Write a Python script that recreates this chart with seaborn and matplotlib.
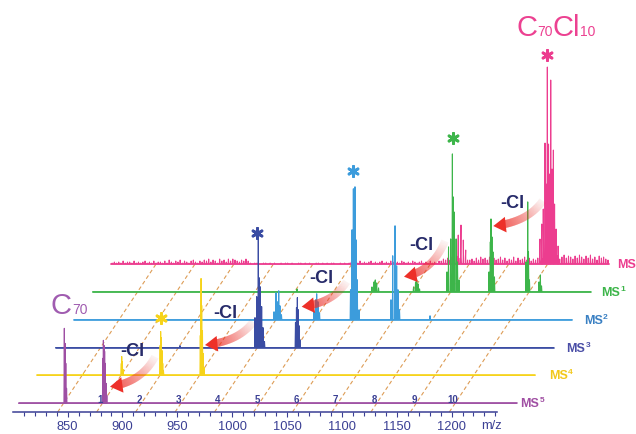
import numpy as np
import pandas as pd
import matplotlib
matplotlib.use("Agg")
import matplotlib.pyplot as plt
import seaborn as sns
from matplotlib import font_manager as fm
from matplotlib.collections import PolyCollection
from matplotlib.patches import Polygon
from matplotlib.ticker import FixedLocator

sns.set_theme(style="white")
_avail = {f.name for f in fm.fontManager.ttflist}
FONT = "Liberation Sans" if "Liberation Sans" in _avail else "DejaVu Sans"
NARROW = "Liberation Sans Narrow" if "Liberation Sans Narrow" in _avail else FONT
plt.rcParams["font.family"] = [FONT, "DejaVu Sans"]

# ---------------------------------------------------------------- data
LAYER_NAMES = ["MS", "MS", "MS", "MS", "MS", "MS"]
LAYER_SUPERSCRIPTS = ["", "1", "2", "3", "4", "5"]
MZ_START, MZ_END = 800, 1254          # recorded m/z window of every spectrum

# MS  (C70Cl10 parent, pink)
MS_MZ = [1116.5, 1119.0, 1121.1, 1123.3, 1191.0, 1192.6, 1194.0, 1195.6, 1196.7,
         1197.7, 1198.8, 1199.7, 1200.8, 1202.0, 1203.2, 1204.3, 1205.7, 1207.5]
MS_INT = [29, 39, 24, 14, 25, 40, 55, 121, 80, 197, 120, 90, 184, 95, 114, 60, 35, 18]
# background noise of the MS trace, one reading every 2 m/z from 801
MS_NOISE = [int(c) for c in (
    "1212131221312123121312"
    "213142132413213421"
    "32435243153425354324353"
    "101100110101001011010011010100110101011001010"
    "121213121231212312132121321213212312131213"
    "3546475867564"
    "45364756473645746354736457463546"
    "5555555"
    "6857968758697586957486754")]
MS_NOISE_START, MS_NOISE_STEP = 801, 2

# MS1 (green)
MS1_MZ = [986.4, 1054.7, 1056.6, 1057.7, 1059.0, 1060.7, 1092.6, 1094.4, 1095.5, 1096.7,
          1098.1, 1123.1, 1124.5, 1126.5, 1128.0, 1128.8, 1129.5, 1131.4, 1132.7, 1134.1,
          1161.4, 1162.6, 1163.2, 1164.1, 1165.0, 1166.4, 1195.1, 1196.7, 1197.4, 1198.3,
          1207.0, 1208.2, 1209.3]
MS1_INT = [3, 5, 10, 12, 9, 4, 5, 10, 12, 8, 3, 20, 45, 53, 138, 95, 80, 53, 30, 12,
           20, 50, 73, 55, 40, 15, 30, 90, 40, 12, 10, 17, 6]

# MS2 (light blue)
MS2_MZ = [982.3, 984.1, 985.3, 986.6, 987.7, 989.1, 1018.7, 1020.3, 1021.2, 1022.4, 1023.8,
          1052.0, 1053.4, 1054.6, 1055.4, 1056.1, 1057.0, 1058.2, 1059.8, 1088.9, 1090.5,
          1092.6, 1094.1, 1095.3, 1096.7, 1124.5]
MS2_INT = [8, 27, 18, 29, 14, 5, 8, 20, 26, 18, 7, 30, 90, 131, 100, 133, 80, 40, 10,
           20, 64, 94, 54, 30, 10, 4]

# MS3 (indigo)
MS3_MZ = [913.4, 981.8, 983.4, 984.8, 985.5, 986.4, 987.9, 989.1, 990.5,
          1018.7, 1019.6, 1020.4, 1021.2, 1021.9, 1022.8]
MS3_INT = [2, 30, 51, 108, 70, 61, 41, 20, 6, 25, 40, 50, 38, 22, 8]

# MS4 (yellow)
MS4_MZ = [842.2, 876.8, 877.2, 877.8, 878.4, 912.2, 912.7, 913.3, 913.9, 914.6, 915.3,
          948.8, 949.5, 950.1, 950.8, 951.5, 952.3]
MS4_INT = [2, 12, 19, 14, 6, 30, 44, 38, 25, 12, 4, 40, 97, 70, 45, 22, 8]

# MS5 (purple)
MS5_MZ = [841.7, 842.4, 843.1, 843.8, 876.8, 877.3, 877.9, 878.5, 879.1, 879.8, 880.5]
MS5_INT = [75, 60, 40, 15, 45, 63, 58, 52, 40, 20, 8]

# selected precursor of each stage (asterisk)
ASTERISK_MZ = [1197.7, 1128.2, 1054.0, 983.4, 912.9]

# m/z of C70Cl_n, n = 0..10 (guide lines)
CLN_MZ = [841, 876.5, 912, 948, 984, 1019.5, 1055, 1091, 1126.5, 1162.5, 1198]
CLN_LABELS = ["", "1", "2", "3", "4", "5", "6", "7", "8", "9", "10"]

XTICKS = [850, 900, 950, 1000, 1050, 1100, 1150, 1200]
XMINOR = [m for m in range(810, 1241, 10) if m % 50]

# ---------------------------------------------------------------- style
LAYER_COLORS = ["#ec3d8f", "#3db54a", "#3c9cdc", "#3a4ca3", "#f6d31a", "#9e4fa3"]
LABEL_COLORS = ["#ec3d8f", "#3db54a", "#3a80c3", "#4a4ea6", "#f2c81a", "#a04fa3"]
LABEL_GAP = [8, 11, 12, 13, 14, 4]
AST_GAP = [12, 16, 16, 7, 13]
NAVY = "#3a3f94"
RED = np.array([0.93, 0.19, 0.16])

PX_PER_MZ = 1.097
MZ0 = 850 - 67.6 / PX_PER_MZ
AXIS_Y = 22.0
BASE5_Y = 30.7
LAYER_DY = 27.85
LAYER_DX_PX = 18.5
BASE5_DX_PX = 5.8
W = 0.35

fig = plt.figure(figsize=(6.36, 4.34), dpi=100)
ax = fig.add_axes([0, 0, 1, 1])
ax.set_facecolor("white")
R = fig.canvas.get_renderer()


def geom(k):
    d = 5 - k
    return BASE5_Y + d * LAYER_DY, (BASE5_DX_PX + d * LAYER_DX_PX) / PX_PER_MZ


def chain_text(axis, xy, pieces, color, z=20):
    dx = 0.0
    for txt, size, dy, weight, fam in pieces:
        t = axis.annotate(txt, xy=xy, xycoords="data", xytext=(dx, dy),
                          textcoords="offset pixels", fontsize=size, fontweight=weight,
                          family=[fam, "DejaVu Sans"], color=color, ha="left",
                          va="baseline", annotation_clip=False, zorder=z)
        dx += t.get_window_extent(R).width


# guide lines C70Cl_n
top_base, top_dx = geom(0)
for m, lab in zip(CLN_MZ, CLN_LABELS):
    ax.plot([m, m + top_dx], [AXIS_Y, top_base], color="#dd9c55", lw=0.8,
            dashes=(3.5, 2.5), zorder=1)
    if lab:
        ax.text(m + 3.5 / PX_PER_MZ, 34, lab, ha="center", va="center", fontsize=7,
                fontweight="bold", color=NAVY, zorder=15)

SPECTRA = [(MS_MZ, MS_INT), (MS1_MZ, MS1_INT), (MS2_MZ, MS2_INT),
           (MS3_MZ, MS3_INT), (MS4_MZ, MS4_INT), (MS5_MZ, MS5_INT)]

for k, (mz, it) in enumerate(SPECTRA):
    base, dx = geom(k)
    col = LAYER_COLORS[k]
    sticks = list(zip(mz, it))
    if k == 0:
        sticks += [(MS_NOISE_START + MS_NOISE_STEP * i, v) for i, v in enumerate(MS_NOISE)]
    pts = [(MZ_START, 0.0), (MZ_END, 0.0)]
    for m, h in sticks:
        pts += [(m - W, 0.0), (m, float(h)), (m + W, 0.0)]
    pts.sort(key=lambda p: p[0])
    df = pd.DataFrame(pts, columns=["mz", "inten"])
    df["x"] = df["mz"] + dx
    df["y"] = df["inten"] + base
    sns.lineplot(data=df, x="x", y="y", sort=False, estimator=None, color=col,
                 linewidth=0.75, ax=ax, zorder=3 + k)
    ax.plot([MZ_START + dx, MZ_END + dx], [base, base], color=col, lw=1.2, zorder=3 + k)
    # stage label
    chain_text(ax, (MZ_END + dx + LABEL_GAP[k] / PX_PER_MZ, base - 4.0),
               [(LAYER_NAMES[k], 9, 0, "bold", FONT),
                (LAYER_SUPERSCRIPTS[k], 6, 5, "bold", FONT)], LABEL_COLORS[k])
    # asterisk on precursor
    if k < len(ASTERISK_MZ):
        am = ASTERISK_MZ[k]
        near = [h for m, h in zip(mz, it) if abs(m - am) < 4]
        ax.scatter([am + dx], [base + max(near) + AST_GAP[k]], marker=(6, 2, 0), s=55,
                   linewidths=2.0, color=col, zorder=12)

# axis
for s in ["top", "right", "left"]:
    ax.spines[s].set_visible(False)
ax.spines["bottom"].set_position(("data", AXIS_Y))
ax.spines["bottom"].set_bounds(800.2, 1241.4)
ax.spines["bottom"].set_color(NAVY)
ax.spines["bottom"].set_linewidth(1.1)
ax.xaxis.set_major_locator(FixedLocator(XTICKS))
ax.xaxis.set_minor_locator(FixedLocator(XMINOR))
ax.tick_params(axis="x", which="major", direction="out", length=3.8, width=0.8,
               color=NAVY, labelcolor=NAVY, labelsize=9.3, pad=2.5)
ax.tick_params(axis="x", which="minor", direction="out", length=2.6, width=0.8, color=NAVY)
ax.xaxis.set_ticks_position("bottom")
ax.set_yticks([])
ax.set_xlabel("")
ax.set_ylabel("")
ax.set_xlim(MZ0, MZ0 + 636 / PX_PER_MZ)
ax.set_ylim(0, 434)
ax.text(1236, 8, "m/z", ha="center", va="center", fontsize=9.3, color=NAVY)

# overlay in pixel coordinates for annotations
ov = fig.add_axes([0, 0, 1, 1])
ov.set_xlim(0, 636)
ov.set_ylim(434, 0)
ov.axis("off")
ov.patch.set_alpha(0)

ARROWS = [((542.7, 200.7), (493.3, 226.0)), ((445.0, 241.0), (404.0, 276.7)),
          ((346.7, 281.7), (301.7, 306.7)), ((253.3, 321.7), (205.0, 345.0)),
          ((155.0, 356.7), (110.0, 386.7))]
CL_TEXT = [(512, 204), (421, 246), (321.7, 278.3), (225.8, 313.3), (132.5, 351.7)]


def grad_arrow(axis, tail, tip):
    P0 = np.array(tail, float)
    T = np.array(tip, float)
    d = T - P0
    C = P0 + np.array([0.3 * d[0], 0.85 * d[1]])
    t = np.linspace(0, 1, 160)[:, None]
    B = (1 - t) ** 2 * P0 + 2 * (1 - t) * t * C + t ** 2 * T
    u = T - C
    u /= np.linalg.norm(u)
    L, hw, bw = 12.5, 7.8, 3.9
    dist = np.linalg.norm(B - T, axis=1)
    body = B[dist >= L - 1.0]
    tg = np.gradient(body, axis=0)
    tg /= np.linalg.norm(tg, axis=1)[:, None]
    nrm = np.stack([-tg[:, 1], tg[:, 0]], axis=1)
    left = body + bw * nrm
    right = body - bw * nrm
    n = len(body)
    quads, cols = [], []
    for i in range(n - 1):
        quads.append([left[i], left[i + 1], right[i + 1], right[i]])
        a = 0.05 + 0.95 * (i / (n - 2)) ** 1.2
        cols.append((*RED, a))
    axis.add_collection(PolyCollection(quads, facecolors=cols, edgecolors="none",
                                       zorder=16))
    nend = np.array([-u[1], u[0]])
    Bb = T - L * u
    axis.add_patch(Polygon([T, Bb + hw * nend, Bb - hw * nend], closed=True,
                           facecolor=RED, edgecolor="none", zorder=17))


for tail, tip in ARROWS:
    grad_arrow(ov, tail, tip)
for (x, y) in CL_TEXT:
    ov.text(x, y, "-Cl", ha="center", va="center", fontsize=13, fontweight="bold",
            color="#272b6a", zorder=18)

chain_text(ov, (51, 314), [("C", 21, 0, "normal", NARROW),
                           ("70", 10, 0, "normal", FONT)], "#a05cb0")
chain_text(ov, (516, 36.5), [("C", 21, 0, "normal", NARROW),
                             ("70", 10, 0, "normal", FONT),
                             ("Cl", 21, 0, "normal", NARROW),
                             ("10", 10, 0, "normal", FONT)], "#ec4191")

fig.savefig("out.png", dpi=100, facecolor="white")
